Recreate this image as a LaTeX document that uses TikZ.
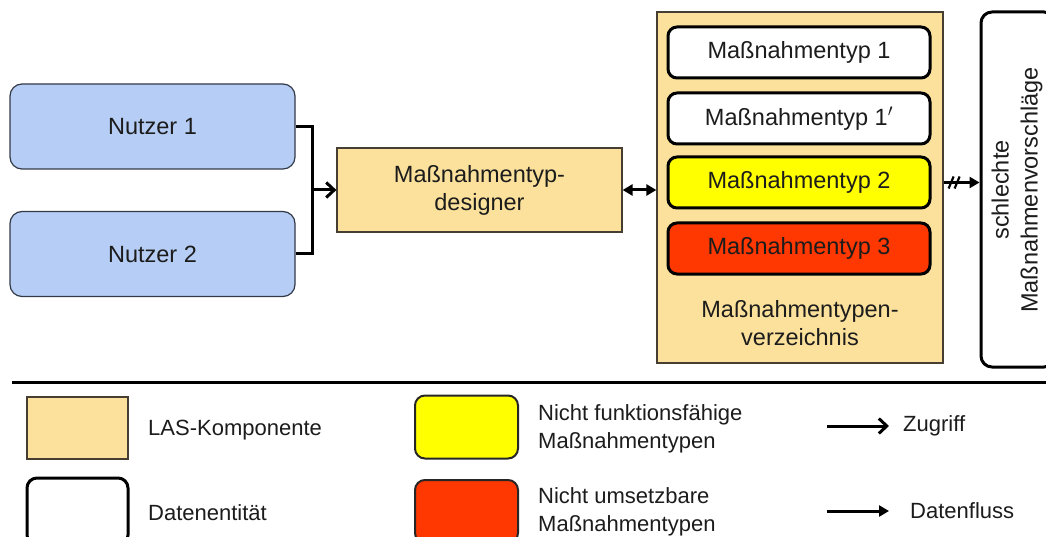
\documentclass[tikz,border=0pt]{standalone}
\usepackage{fontspec}
\setmainfont{Liberation Sans}
\usetikzlibrary{arrows.meta,calc}

\definecolor{userblue}{RGB}{182,206,245}
\definecolor{userline}{RGB}{50,58,72}
\definecolor{lasfill}{RGB}{251,225,155}
\definecolor{lasline}{RGB}{70,62,50}
\definecolor{warnyellow}{RGB}{255,255,0}
\definecolor{errred}{RGB}{255,55,0}
\definecolor{ink}{RGB}{28,28,28}

\newcommand\bigfs{\fontsize{23.5}{29}\selectfont}
\newcommand\legfs{\fontsize{22}{28}\selectfont}

\begin{document}
\begin{tikzpicture}[x=1pt,y=-1pt,
  every node/.style={text=ink, font=\bigfs},
  user/.style={draw=userline, fill=userblue, line width=1.2pt, rounded corners=12pt,
    minimum width=285pt, minimum height=85pt},
  lasbox/.style={draw=lasline, fill=lasfill, line width=1.2pt},
  entity/.style={draw=black, line width=3pt, rounded corners=9pt,
    minimum width=262pt, minimum height=51pt},
  legendbox/.style={draw=black!85, line width=2pt, rounded corners=10pt,
    minimum width=103pt, minimum height=63pt},
  access/.style={line width=3pt, -{Straight Barb[length=8pt,width=15pt,line width=3pt]}},
  flow/.style={line width=3pt, -{Triangle[length=10pt,width=11pt]}},
  flowboth/.style={line width=3pt, {Triangle[length=10pt,width=11pt]}-{Triangle[length=10pt,width=11pt]}},
  legtext/.style={anchor=west, inner sep=0pt, align=left, font=\legfs}
]
\clip (0,0) rectangle (1046,537);
\fill[white] (0,0) rectangle (1046,537);

% users
\node[user] (n1) at (152.5,126.5) {Nutzer 1};
\node[user] (n2) at (152.5,254) {Nutzer 2};

% designer component
\node[lasbox, minimum width=285pt, minimum height=84pt, align=center,
  font=\fontsize{23.5}{28}\selectfont] (des) at (479.5,190)
  {Maßnahmentyp-\\designer};

% catalogue of measure types
\node[lasbox, minimum width=286pt, minimum height=351pt] (verz) at (800,187.5) {};
\node[entity, fill=white] (t1) at (799,52.5) {Maßnahmentyp 1};
\node[entity, fill=white] (t1b) at (799,118.5) {Maßnahmentyp 1$'$};
\node[entity, fill=warnyellow] (t2) at (799,182.5) {Maßnahmentyp 2};
\node[entity, fill=errred] (t3) at (799,248.5) {Maßnahmentyp 3};
\node[align=center, font=\fontsize{23.5}{28}\selectfont] (vlab) at (800,323)
  {Maßnahmentypen-\\verzeichnis};

% rejected proposals
\node[draw=black, line width=3pt, rounded corners=11pt, minimum width=74pt,
  minimum height=355pt] (sch) at (1018,189.5) {};
\node[rotate=90, align=center, font=\fontsize{23.5}{29}\selectfont] (schlab) at (1017,190)
  {schlechte\\Maßnahmenvorschläge};

% connectors
\coordinate (j) at (312,190);
\draw[line width=3pt] (n1.east) -| (j) |- (n2.east);
\draw[access] (j) -- (des.west);
\draw[flowboth] (des.east) -- (des.east -| verz.west);
\coordinate (ra) at (t2.east -| verz.east);
\draw[flow] (ra) -- (ra -| sch.west);
\draw[line width=2.2pt] ($(ra)+(5,6)$) -- ($(ra)+(10,-6)$);
\draw[line width=2.2pt] ($(ra)+(11,6)$) -- ($(ra)+(16,-6)$);

% separator
\draw[line width=3pt] (12,382) -- (1046,382);

% legend
\node[lasbox, minimum width=101pt, minimum height=62pt] (lgl) at (77.5,428) {};
\node[legtext] (lgltx) at (148,430) {LAS-Komponente};
\node[draw=black, line width=3pt, rounded corners=10pt, minimum width=101pt,
  minimum height=67pt] (lge) at (77.5,511.5) {};
\node[legtext] (lgetx) at (148,513) {Datenentität};

\node[legendbox, fill=warnyellow] (lgy) at (466.5,427) {};
\node[legtext] (lgytx) at (538,429) {Nicht funktionsfähige\\Maßnahmentypen};
\node[legendbox, fill=errred] (lgr) at (466.5,511.5) {};
\node[legtext] (lgrtx) at (538,512) {Nicht umsetzbare\\Maßnahmentypen};

\coordinate (za) at (827,426);
\coordinate (zb) at (889,426);
\draw[access] (za) -- (zb);
\node[legtext] (zug) at (903,426) {Zugriff};
\coordinate (da) at (827,511);
\coordinate (db) at (889,511);
\draw[flow] (da) -- (db);
\node[legtext] (dat) at (910,511) {Datenfluss};
\end{tikzpicture}
\end{document}
